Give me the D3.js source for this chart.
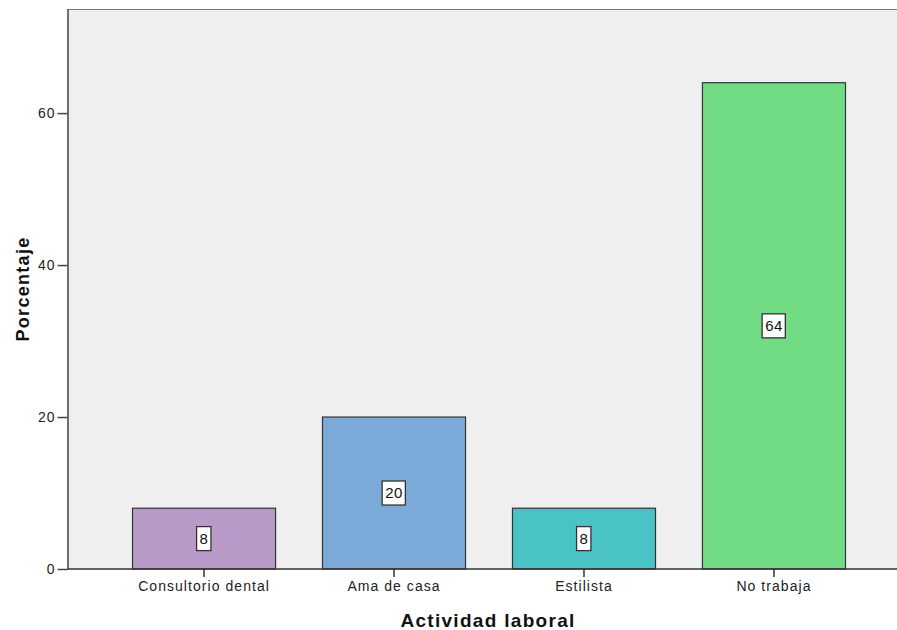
<!DOCTYPE html>
<html><head><meta charset="utf-8">
<script src="https://cdn.jsdelivr.net/npm/d3@7/dist/d3.min.js"></script>
<style>body{margin:0;background:#fff}svg{display:block}</style>
</head><body><svg id="c" width="897" height="630"></svg>
<script>
const categories = ["Consultorio dental", "Ama de casa", "Estilista", "No trabaja"];
const values = [8, 20, 8, 64];
const colors = ["#B89AC9", "#7BA9D8", "#4AC3C6", "#72DC85"];
const yTicks = [0, 20, 40, 60];

const svg = d3.select("#c");
const pL = 67, pT = 9, pR = 910, pB = 569;
const font = "Liberation Sans, Arial, sans-serif";

const x = d3.scaleBand().domain(categories).range([132, 845]).paddingInner(0.247).paddingOuter(0);
const y = d3.scaleLinear().domain([0, 73.7]).range([pB, pT]);

svg.append("rect").attr("x", pL).attr("y", pT).attr("width", pR - pL).attr("height", pB - pT).attr("fill", "#EFEFEF");
svg.append("line").attr("x1", pL).attr("x2", pR).attr("y1", pT + 0.5).attr("y2", pT + 0.5).attr("stroke", "#777").attr("stroke-width", 1.2);

svg.selectAll("rect.bar").data(values).enter().append("rect").attr("class", "bar")
  .attr("x", (d, i) => x(categories[i]) + 0.5)
  .attr("y", d => y(d))
  .attr("width", x.bandwidth())
  .attr("height", d => pB - y(d))
  .attr("fill", (d, i) => colors[i])
  .attr("stroke", "#333").attr("stroke-width", 1.2);

// y axis
const ya = svg.append("g").attr("transform", `translate(${pL + 0.5},0)`)
  .call(d3.axisLeft(y).tickValues(yTicks).tickSize(10).tickSizeOuter(0).tickPadding(2));
ya.select(".domain").attr("stroke", "#444").attr("stroke-width", 1.5);
ya.selectAll(".tick line").attr("stroke", "#444").attr("stroke-width", 1.5);
ya.selectAll("text").attr("font-family", font).attr("font-size", 14).attr("letter-spacing", 1).attr("fill", "#222");

// x axis
const xa = svg.append("g").attr("transform", `translate(0.5,${pB})`)
  .call(d3.axisBottom(x).tickSize(8).tickSizeOuter(0).tickPadding(4));
xa.select(".domain").attr("d", `M${pL},0H${pR}`).attr("stroke", "#333").attr("stroke-width", 1.5);
xa.selectAll(".tick line").attr("stroke", "#333").attr("stroke-width", 1.5);
xa.selectAll("text").attr("font-family", font).attr("font-size", 14).attr("letter-spacing", 1.05).attr("fill", "#222");

// value labels
const lab = svg.selectAll("g.lab").data(values).enter().append("g").attr("class", "lab")
  .attr("transform", (d, i) => `translate(${x(categories[i]) + x.bandwidth() / 2 + 0.5},${(y(d) + pB) / 2})`);
lab.append("text").text(d => d).attr("text-anchor", "middle").attr("dy", "0.36em")
  .attr("font-family", font).attr("font-size", 15).attr("letter-spacing", 0.5).attr("fill", "#111");
lab.each(function () {
  const g = d3.select(this), b = g.select("text").node().getBBox();
  g.insert("rect", "text").attr("x", b.x - 3).attr("y", -12).attr("width", b.width + 5.5).attr("height", 24)
    .attr("fill", "#fff").attr("stroke", "#333").attr("stroke-width", 1.3);
});

svg.append("text").text("Actividad laboral").attr("x", 488).attr("y", 627).attr("text-anchor", "middle")
  .attr("font-family", font).attr("font-weight", "bold").attr("font-size", 19).attr("letter-spacing", 1.3).attr("fill", "#111");
svg.append("text").text("Porcentaje").attr("transform", "translate(29,289) rotate(-90)").attr("text-anchor", "middle")
  .attr("font-family", font).attr("font-weight", "bold").attr("font-size", 18).attr("letter-spacing", 1.3).attr("fill", "#111");
</script></body></html>
